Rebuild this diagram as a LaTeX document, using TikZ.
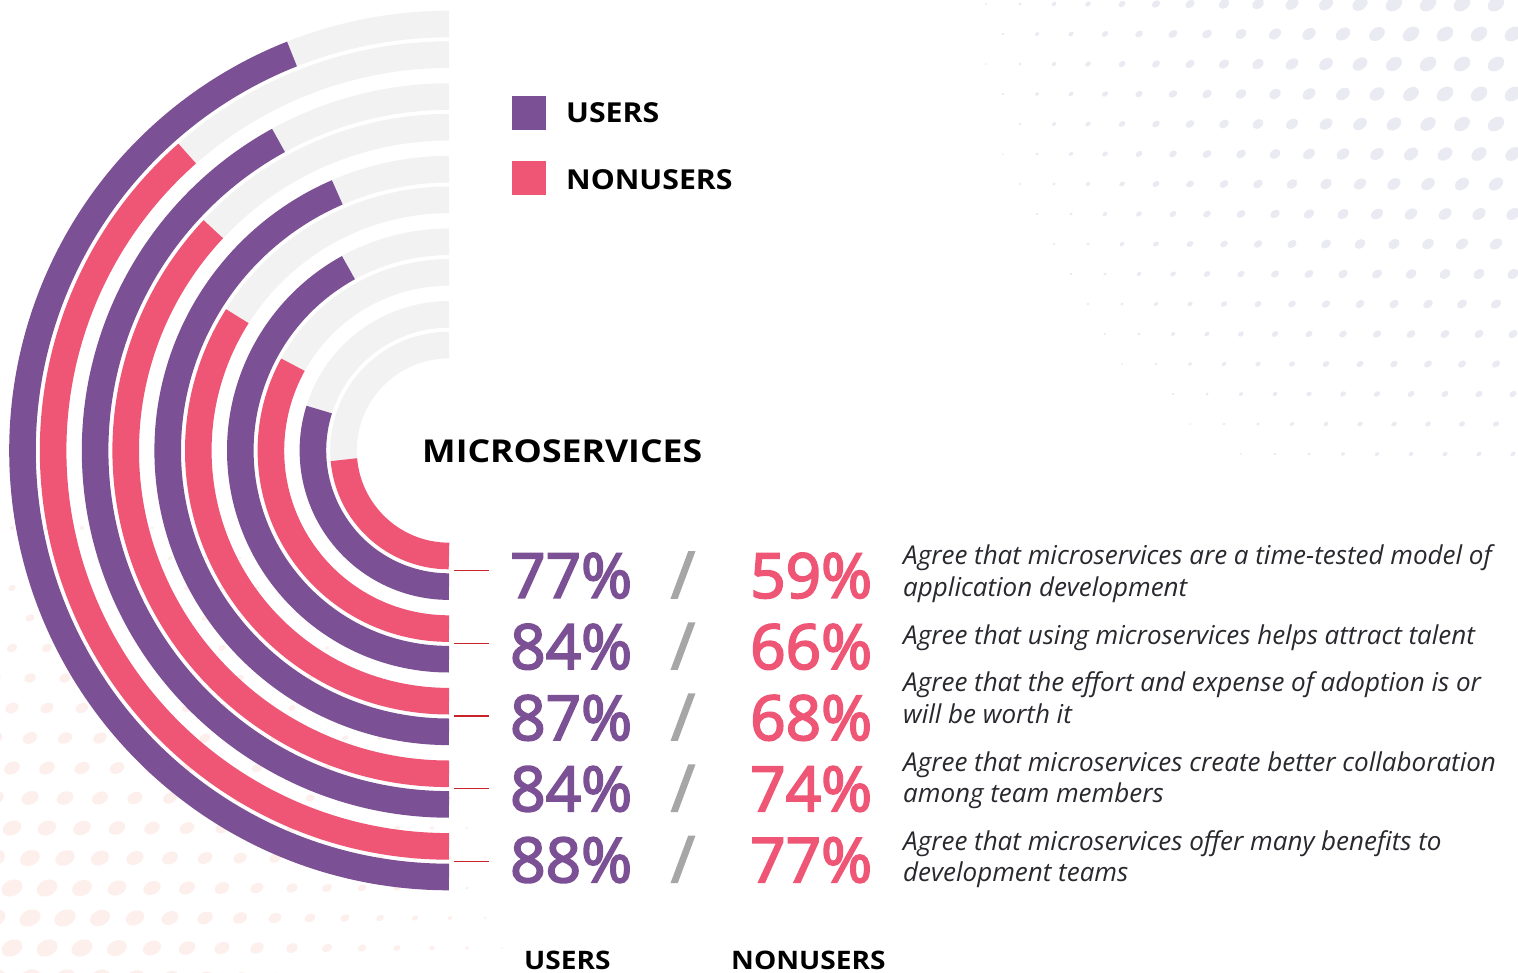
\documentclass[tikz,border=0pt]{standalone}
\usepackage{fontspec}
\setmainfont{Open Sans}
\newfontfamily\pctfont{Open Sans}[FakeBold=3]
\definecolor{upur}{RGB}{123,80,148}
\definecolor{npink}{RGB}{239,86,117}
\definecolor{trackg}{RGB}{242,242,242}
\definecolor{tickred}{RGB}{200,35,40}
\definecolor{slashg}{RGB}{166,166,166}
\definecolor{desc}{RGB}{40,40,46}
\definecolor{dotblue}{RGB}{233,234,242}
\definecolor{dotpink}{RGB}{253,240,236}
\begin{document}
\begin{tikzpicture}[x=1pt,y=-1pt,
  ring/.style={line width=26.6pt},
  pct/.style={anchor=base west, font=\fontsize{62}{62}\pctfont, inner sep=0pt},
  slashtxt/.style={anchor=base, font=\fontsize{64}{64}\pctfont, text=slashg, inner sep=0pt},
  dsc/.style={anchor=base west, font=\fontsize{26}{26}\selectfont\itshape, text=desc, inner sep=0pt},
  lab/.style={anchor=base west, font=\fontsize{27.5}{27.5}\selectfont\bfseries, inner sep=0pt},
  blab/.style={anchor=base west, font=\fontsize{25.5}{25.5}\selectfont\bfseries, inner sep=0pt},
  ticker/.style={draw=tickred, line width=1.4pt},
  legsq/.style={minimum size=34pt, inner sep=0pt, draw=none},
]
\useasboundingbox (0,0) rectangle (1518,973);
\fill[white] (0,0) rectangle (1518,973);
% background halftone dots, top right
\foreach \i in {0,...,18}{
  \foreach \j in {0,...,15}{
    \pgfmathsetmacro{\px}{1530-34*\i-17*mod(\j,2)}
    \pgfmathsetmacro{\py}{4+30*\j}
    \pgfmathsetmacro{\dd}{veclen((1518-\px)/100,\py/100)}
    \pgfmathsetmacro{\sz}{min(1,max(0,1.25-\dd/4.8))}
    \ifdim\sz pt>0.12pt
      \fill[dotblue, rotate around={35:(\px,\py)}] (\px,\py) ellipse[x radius=9*\sz, y radius=6.5*\sz];
    \fi
  }
}
% background halftone dots, bottom left
\foreach \i in {0,...,16}{
  \foreach \j in {0,...,18}{
    \pgfmathsetmacro{\px}{-5+35*\i+17*mod(\j,2)}
    \pgfmathsetmacro{\py}{978-30*\j}
    \pgfmathsetmacro{\dd}{veclen(\px/100,(973-\py)/100)}
    \pgfmathsetmacro{\sz}{min(1,max(0,1.2-\dd/4.6))}
    \ifdim\sz pt>0.1pt
      \fill[dotpink, rotate around={25:(\px,\py)}] (\px,\py) ellipse[x radius=11*\sz, y radius=8*\sz];
    \fi
  }
}
% radial bars
\coordinate (C) at (449,450.5);
\foreach \r/\s/\c in {105.5/85/npink, 136.1/107.5/upur, 178.1/118.8/npink, 208.7/151.2/upur,
                      250.7/122.4/npink, 281.3/156.6/upur, 323.3/133.2/npink, 353.9/151.2/upur,
                      395.9/138.6/npink, 426.5/158.4/upur}{
  \pgfmathsetmacro{\e}{90+\s}
  \draw[ring, trackg] (C) ++(\e:\r) arc[start angle=\e, end angle=270, radius=\r];
  \draw[ring, \c] (C) ++(90:\r) arc[start angle=90, end angle=\e, radius=\r];
}
% ticks
\foreach \y [count=\k] in {570.7,643.3,715.9,788.3,861.3}{
  \coordinate (ta\k) at (454,\y);
  \coordinate (tb\k) at (489,\y);
  \draw[ticker] (ta\k) -- (tb\k);
}
% legend
\node[legsq, fill=upur] (lsq1) at (529,113) {};
\node[legsq, fill=npink] (lsq2) at (529,178) {};
\node[lab] (lu) at (566,122.7) {\scalebox{1.1}[1]{USERS}};
\node[lab] (ln) at (566,190) {\scalebox{1.1}[1]{NONUSERS}};
% heading
\node[anchor=base west, font=\fontsize{31.5}{31.5}\selectfont\bfseries, inner sep=0pt] (head) at (422,462.3) {\scalebox{1.13}[1]{MICROSERVICES}};
% percentages
\foreach \u/\n [count=\k from 0] in {77/59,84/66,87/68,84/74,88/77}{
  \pgfmathsetmacro{\yb}{597.8+71.1*\k}
  \node[pct, text=upur] (u\k) at (510,\yb) {\u\%};
  \node[slashtxt] (s\k) at (683,\yb) {/};
  \node[pct, text=npink] (n\k) at (750,\yb) {\n\%};
}
% descriptions
\node[dsc] (d1a) at (903,564) {Agree that microservices are a time-tested model of};
\node[dsc] (d1b) at (903,596) {application development};
\node[dsc] (d2a) at (903,644) {Agree that using microservices helps attract talent};
\node[dsc] (d3a) at (903,691) {Agree that the effort and expense of adoption is or};
\node[dsc] (d3b) at (903,723) {will be worth it};
\node[dsc] (d4a) at (903,771) {Agree that microservices create better collaboration};
\node[dsc] (d4b) at (903,802) {among team members};
\node[dsc] (d5a) at (903,850) {Agree that microservices offer many benefits to};
\node[dsc] (d5b) at (903,881) {development teams};
% bottom labels
\node[blab] (bu) at (524,969) {\scalebox{1.1}[1]{USERS}};
\node[blab] (bn) at (731,969) {\scalebox{1.1}[1]{NONUSERS}};
\end{tikzpicture}
\end{document}
